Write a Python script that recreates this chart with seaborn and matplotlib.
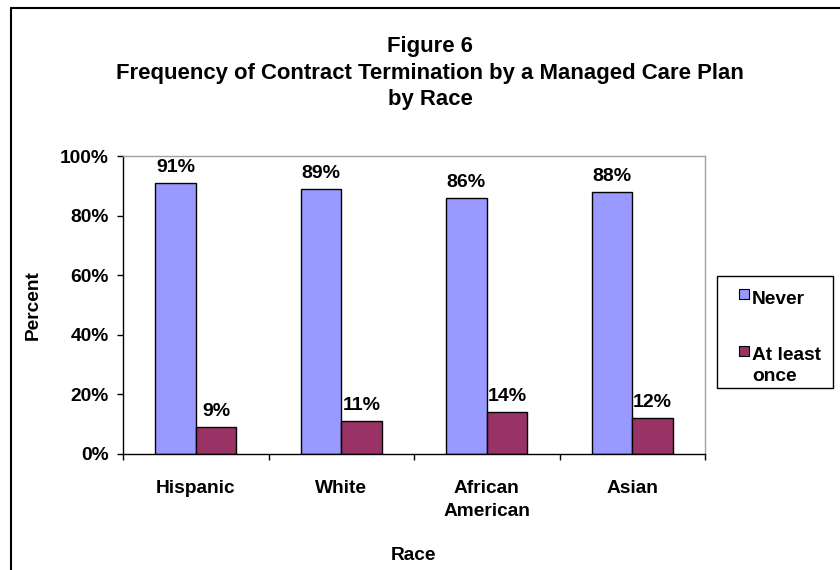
import matplotlib
matplotlib.use("Agg")
import matplotlib.pyplot as plt
from matplotlib.lines import Line2D
from matplotlib.patches import Rectangle
import pandas as pd
import seaborn as sns

# Survey results: share of physicians by race and how often a managed care
# plan terminated their contract
races = ["Hispanic", "White", "African\nAmerican", "Asian"]
responses = ["Never", "At least once"]
never = [91, 89, 86, 88]
at_least_once = [9, 11, 14, 12]
y_ticks = [0, 20, 40, 60, 80, 100]
colors = ["#9999FF", "#993366"]

df = pd.DataFrame({
    "Race": races * 2,
    "Response": [responses[0]] * len(races) + [responses[1]] * len(races),
    "Percent": never + at_least_once,
})

sns.set_theme(style="white")
plt.rcParams["font.family"] = ["Liberation Sans", "DejaVu Sans"]
plt.rcParams["font.weight"] = "bold"
plt.rcParams["axes.labelweight"] = "bold"

W, H = 840, 570
fig = plt.figure(figsize=(W / 100, H / 100), dpi=100)
fig.patch.set_facecolor("white")
ax = fig.add_axes([123 / W, 1 - 454 / H, 582 / W, 298 / H])

sns.barplot(
    data=df, x="Race", y="Percent", hue="Response", hue_order=responses,
    palette=colors, width=0.56, gap=0, saturation=1,
    edgecolor="black", linewidth=1, legend=False, ax=ax,
)

# value labels above each bar
for cont in ax.containers:
    ax.bar_label(cont, labels=[f"{v:.0f}%" for v in cont.datavalues],
                 padding=5, fontsize=14, fontweight="bold", color="black")

ax.set_xlim(-0.5, len(races) - 0.5)
ax.set_ylim(0, 100)
ax.set_yticks(y_ticks, labels=[f"{t}%" for t in y_ticks])
ax.set_xticks(range(len(races)), labels=races)
ax.set_xticks([i - 0.5 for i in range(len(races) + 1)], minor=True)

ax.tick_params(axis="y", left=True, direction="out", length=4, width=1,
               color="black", pad=6, labelsize=13.8, labelcolor="black")
ax.tick_params(axis="x", which="major", bottom=True, length=0, pad=19,
               labelsize=13.8, labelcolor="black")
ax.tick_params(axis="x", which="minor", bottom=True, direction="out",
               length=4, width=1, color="black")
for lab in ax.get_xticklabels() + ax.get_yticklabels():
    lab.set_fontweight("bold")
    lab.set_linespacing(1.45)

ax.set_ylabel("Percent", fontsize=13.8, labelpad=13, color="black")
ax.set_xlabel("Race", fontsize=13.8, labelpad=19, color="black")

for side in ("left", "bottom"):
    ax.spines[side].set_color("black")
    ax.spines[side].set_linewidth(1)
for side in ("top", "right"):
    ax.spines[side].set_color("#A0A0A0")
    ax.spines[side].set_linewidth(1)
ax.grid(False)

# title block
fig.text(430 / W, 1 - 73 / H,
         "Figure 6\nFrequency of Contract Termination by a Managed Care Plan\nby Race",
         ha="center", va="center", fontsize=15.9, fontweight="bold",
         linespacing=1.37, color="black")

# legend box
fig.patches.append(Rectangle((717 / W, 1 - 388 / H), 116 / W, 112 / H,
                             transform=fig.transFigure, facecolor="white",
                             edgecolor="black", linewidth=1))
legend_rows = [(responses[0], 294, 299, "center"), ("At least\nonce", 351, 347, "top")]
for (label, sq_y, txt_y, va), col in zip(legend_rows, colors):
    fig.patches.append(Rectangle((739 / W, 1 - (sq_y + 5) / H), 10 / W, 10 / H,
                                 transform=fig.transFigure, facecolor=col,
                                 edgecolor="black", linewidth=0.8))
    fig.text(752 / W, 1 - txt_y / H, label, ha="left", va=va,
             fontsize=13.8, fontweight="bold", color="black",
             linespacing=1.3)

# outer frame
fig.add_artist(Line2D([11 / W, 11 / W], [0, 1 - 8 / H], transform=fig.transFigure,
                      color="black", linewidth=1.5))
fig.add_artist(Line2D([11 / W, 1], [1 - 8 / H, 1 - 8 / H], transform=fig.transFigure,
                      color="black", linewidth=1.5))

fig.savefig("out.png", dpi=100)
